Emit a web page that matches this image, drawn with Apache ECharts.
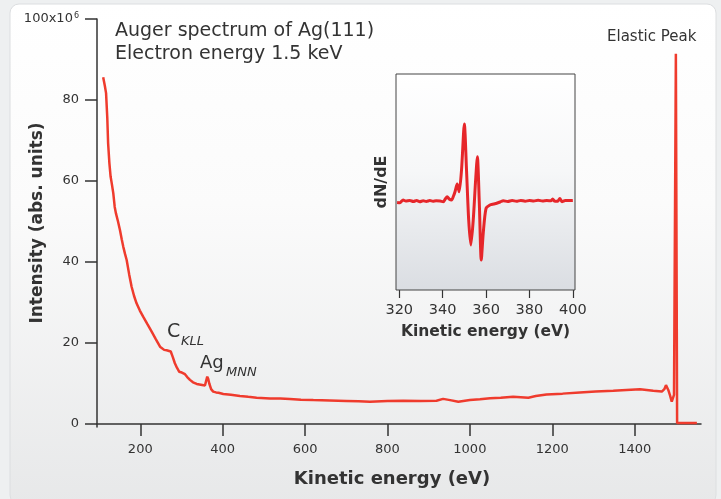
<!DOCTYPE html>
<html>
<head>
<meta charset="utf-8">
<script src="https://cdn.jsdelivr.net/npm/echarts@6/dist/echarts.min.js"></script>
<style>
html,body{margin:0;padding:0;background:#eef0f1;}
#chart{width:721px;height:499px;}
</style>
</head>
<body>
<div id="chart"></div>
<script>
// ---- Main spectrum (Kinetic energy in eV, intensity in units of 10^6) ----
var mainEnergy = [110, 114, 117, 120, 122, 125, 128, 131, 134.5, 138, 141, 146, 150.7, 155, 158.7, 163, 167, 173, 179, 185, 191, 199, 207, 217, 227.7, 238, 248, 258, 264, 268, 274, 279, 284, 289, 294.7, 301, 308.5, 314, 320.6, 328, 337, 347, 357, 360, 362.6, 365, 367.5, 372, 377, 384, 390, 401.5, 420, 442, 462, 482.5, 515, 540, 563, 590, 620, 660, 700, 730, 757.5, 800, 838, 880, 919, 935, 952, 972, 1000, 1024.5, 1049, 1075, 1105, 1142, 1160, 1186, 1225, 1267, 1305, 1348, 1380, 1413, 1445, 1466, 1472, 1476, 1481.6, 1486, 1490, 1495.5, 1498, 1500, 1503, 1551];
var mainIntensity = [85.6, 83.5, 81.7, 75.5, 69.3, 64.5, 61.1, 59.3, 57.0, 53.6, 52.0, 50.0, 47.9, 45.6, 43.8, 42.0, 40.5, 37.0, 33.9, 31.6, 29.8, 28.0, 26.5, 24.7, 22.8, 20.9, 19.1, 18.3, 18.2, 18.1, 17.9, 16.5, 15.0, 13.9, 12.9, 12.7, 12.3, 11.6, 10.9, 10.3, 9.9, 9.7, 9.5, 9.6, 11.7, 11.1, 10.0, 8.6, 8.0, 7.8, 7.7, 7.4, 7.2, 6.9, 6.7, 6.5, 6.3, 6.3, 6.2, 6.0, 5.9, 5.8, 5.7, 5.6, 5.5, 5.7, 5.75, 5.7, 5.75, 6.2, 5.9, 5.5, 5.9, 6.1, 6.35, 6.5, 6.75, 6.5, 6.9, 7.3, 7.5, 7.8, 8.0, 8.2, 8.4, 8.6, 8.2, 8.0, 8.6, 9.6, 8.4, 7.0, 5.5, 7.2, 7.0, 91.4, 0.25, 0.25];
var mainXTicks = [200, 400, 600, 800, 1000, 1200, 1400];
var mainYTicks = [0, 20, 40, 60, 80, 100];

// ---- Inset: derivative spectrum dN/dE of Ag MNN (arbitrary units) ----
var insetEnergy = [319, 320.3, 321.8, 323, 324.9, 326.5, 328, 329.5, 331, 332.5, 334.1, 335.5, 337, 338.8, 340.3, 341.2, 342.1, 343, 344.1, 345, 345.7, 346.7, 347.6, 348.7, 350, 351, 352, 353, 354.1, 355.2, 356, 356.9, 357.8, 358.7, 360, 361.8, 363.5, 364.9, 366.5, 367.9, 370, 372, 374, 376, 378, 380, 382, 384, 386, 388, 390, 390.7, 391.5, 393, 394, 395, 396.5, 398, 400];
var insetSignal = [87.5, 87.3, 90, 89, 89.5, 88.5, 89.5, 88.3, 89.2, 88.6, 89.4, 88.8, 89.2, 89, 88.3, 91, 93.3, 91, 90, 94, 98.3, 106, 98.3, 120, 166, 120, 70, 45, 70, 110, 133.3, 86.7, 30, 56.7, 81.7, 85, 86, 86.7, 88, 89.3, 88.5, 89.5, 88.7, 89.6, 88.8, 89.5, 89, 89.8, 89, 89.4, 89.2, 91, 89, 88.8, 91.5, 88.3, 89.5, 89.4, 89.6];
var insetXTicks = [320, 340, 360, 380, 400];

var mainData = mainEnergy.map(function (e, i) { return [e, mainIntensity[i]]; });
var insetData = insetEnergy.map(function (e, i) { return [e, insetSignal[i]]; });

var FONT = 'DejaVu Sans';
var TXT = '#333333';
var chart = echarts.init(document.getElementById('chart'), null, {renderer: 'canvas'});
var plain = function (v) { return String(v); };

var option = {
  backgroundColor: '#eef0f1',
  animation: false,
  textStyle: {fontFamily: FONT},
  graphic: [
    {
      type: 'rect', z: -100, silent: true,
      shape: {x: 10, y: 4, width: 706, height: 500, r: 9},
      style: {
        fill: new echarts.graphic.LinearGradient(0, 0, 0, 1, [
          {offset: 0, color: '#ffffff'},
          {offset: 0.4, color: '#fbfbfb'},
          {offset: 1, color: '#e7e8e9'}
        ]),
        stroke: '#dcdee0', lineWidth: 1
      }
    },
    {type: 'text', left: 115, top: 22, style: {text: 'Auger spectrum of Ag(111)', font: '19px "DejaVu Sans"', fill: TXT}},
    {type: 'text', left: 115, top: 45, style: {text: 'Electron energy 1.5 keV', font: '19px "DejaVu Sans"', fill: TXT}},
    {type: 'text', left: 607, top: 30, style: {text: 'Elastic Peak', font: '15px "DejaVu Sans"', fill: TXT}},
    {type: 'text', left: 167, top: 323, style: {text: 'C', font: '19px "DejaVu Sans"', fill: TXT}},
    {type: 'text', left: 181, top: 335, style: {text: 'KLL', font: 'italic 13px "DejaVu Sans"', fill: TXT}},
    {type: 'text', left: 200, top: 354, style: {text: 'Ag', font: '18px "DejaVu Sans"', fill: TXT}},
    {type: 'text', left: 226, top: 366, style: {text: 'MNN', font: 'italic 13px "DejaVu Sans"', fill: TXT}},
    {type: 'text', left: 404, top: 81, style: {text: 'Ag', font: '14px "DejaVu Sans"', fill: TXT}},
    {type: 'text', left: 425, top: 90, style: {text: 'MNN', font: 'italic 11px "DejaVu Sans"', fill: TXT}},
    {type: 'text', left: 404, top: 97, style: {text: 'Electron energy 3 keV', font: '13px "DejaVu Sans"', fill: TXT}}
  ],
  grid: [
    {left: 97, top: 19, right: 20, bottom: 72, containLabel: false, outerBoundsMode: 'none'},
    {left: 396, top: 74, right: 146, bottom: 209, containLabel: false, outerBoundsMode: 'none',
     show: true, borderColor: '#444', borderWidth: 1,
     backgroundColor: new echarts.graphic.LinearGradient(0, 0, 0, 1, [
       {offset: 0, color: '#ffffff'},
       {offset: 0.45, color: '#f6f7f8'},
       {offset: 1, color: '#dadde2'}
     ]), z: 5}
  ],
  xAxis: [
    {
      type: 'value', gridIndex: 0, min: 95, max: 1561,
      name: 'Kinetic energy (eV)', nameLocation: 'middle', nameGap: 43, nameMoveOverlap: false,
      nameTextStyle: {fontFamily: FONT, fontWeight: 'bold', fontSize: 18, color: TXT, padding: [0, 14, 0, 0]},
      axisLine: {show: true, lineStyle: {color: '#333', width: 1.5}},
      axisTick: {show: true, length: 12, customValues: mainXTicks, lineStyle: {color: '#333', width: 1.5}},
      axisLabel: {customValues: mainXTicks, formatter: plain, margin: 16, fontFamily: FONT, fontSize: 13, color: TXT},
      splitLine: {show: false}
    },
    {
      type: 'value', gridIndex: 1, min: 318.5, max: 401,
      name: 'Kinetic energy (eV)', nameLocation: 'middle', nameGap: 34, nameMoveOverlap: false,
      nameTextStyle: {fontFamily: FONT, fontWeight: 'bold', fontSize: 15.5, color: TXT},
      axisLine: {show: false},
      axisTick: {show: true, length: 8, customValues: insetXTicks, lineStyle: {color: '#333', width: 1.2}},
      axisLabel: {customValues: insetXTicks, formatter: plain, margin: 13, fontFamily: FONT, fontSize: 14.5, color: TXT},
      splitLine: {show: false}
    }
  ],
  yAxis: [
    {
      type: 'value', gridIndex: 0, min: -0.74, max: 100,
      name: 'Intensity (abs. units)', nameLocation: 'middle', nameGap: 51, nameMoveOverlap: false,
      nameTextStyle: {fontFamily: FONT, fontWeight: 'bold', fontSize: 17, color: TXT},
      axisLine: {show: true, lineStyle: {color: '#333', width: 1.5}},
      axisTick: {show: true, length: 12, customValues: mainYTicks, lineStyle: {color: '#333', width: 1.5}},
      axisLabel: {
        customValues: mainYTicks, margin: 18, fontFamily: FONT, fontSize: 13, color: TXT,
        formatter: function (v) { return v === 100 ? '{a|100x10}{s|6}' : String(v); },
        rich: {a: {fontFamily: FONT, fontSize: 13, color: TXT}, s: {fontFamily: FONT, fontSize: 8, color: TXT, verticalAlign: 'top', padding: [0, 0, 7, 1]}}
      },
      splitLine: {show: false}
    },
    {
      type: 'value', gridIndex: 1, min: 0, max: 216,
      name: 'dN/dE', nameLocation: 'middle', nameGap: 6, nameMoveOverlap: false,
      nameTextStyle: {fontFamily: FONT, fontWeight: 'bold', fontSize: 16, color: TXT},
      axisLine: {show: false}, axisTick: {show: false}, axisLabel: {show: false},
      splitLine: {show: false}
    }
  ],
  series: [
    {
      name: 'Auger spectrum', type: 'line', xAxisIndex: 0, yAxisIndex: 0,
      data: mainData, showSymbol: false, symbol: 'none',
      lineStyle: {color: '#ef3b2d', width: 2.5}, z: 3
    },
    {
      name: 'dN/dE', type: 'line', xAxisIndex: 1, yAxisIndex: 1,
      data: insetData, showSymbol: false, symbol: 'none', smooth: 0.25,
      lineStyle: {color: '#e6262a', width: 3}, z: 10
    }
  ]
};
chart.setOption(option);
</script>
</body>
</html>
